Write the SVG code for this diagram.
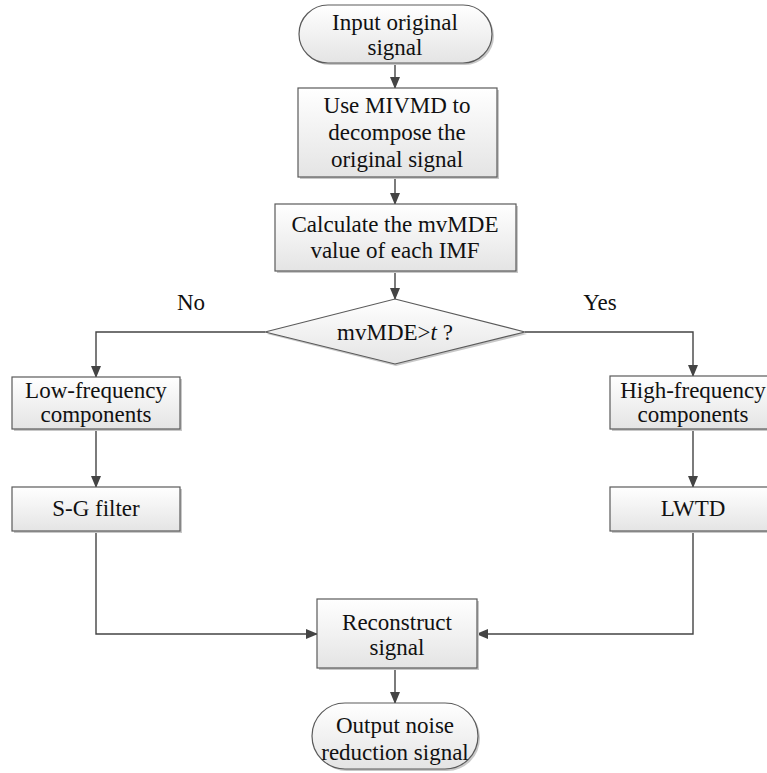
<svg xmlns="http://www.w3.org/2000/svg" width="767" height="773" viewBox="0 0 767 773">
<style>
.n{fill:url(#g);stroke:#5a5a5a;stroke-width:1.2}
.s{fill:#c8c8c8;stroke:none}
.t{font-size:23px;fill:#111;text-anchor:middle}
.c{fill:none;stroke:#444;stroke-width:1.4}
</style>
<defs>
<linearGradient id="g" x1="0" y1="0" x2="0" y2="1">
<stop offset="0" stop-color="#ffffff"/>
<stop offset="1" stop-color="#e4e4e4"/>
</linearGradient>
<marker id="a" markerWidth="12" markerHeight="10" refX="11" refY="5" orient="auto" markerUnits="userSpaceOnUse">
<path d="M0,0 L12,5 L0,10 Z" fill="#444"/>
</marker>
</defs>
<rect width="767" height="773" fill="#fff"/>
<g font-family="Liberation Serif, Times New Roman, serif">
<g id="connectors">
<line class="c" x1="395" y1="63" x2="395" y2="88" marker-end="url(#a)"/>
<line class="c" x1="395" y1="177" x2="395" y2="204" marker-end="url(#a)"/>
<line class="c" x1="395" y1="271" x2="395" y2="299" marker-end="url(#a)"/>
<polyline class="c" points="265,332 96,332 96,377" marker-end="url(#a)"/>
<line class="c" x1="96" y1="429" x2="96" y2="487" marker-end="url(#a)"/>
<polyline class="c" points="96,531 96,634 317,634" marker-end="url(#a)"/>
<polyline class="c" points="525,332 693,332 693,376" marker-end="url(#a)"/>
<line class="c" x1="693" y1="429" x2="693" y2="487" marker-end="url(#a)"/>
<polyline class="c" points="693,531 693,634 477,634" marker-end="url(#a)"/>
<line class="c" x1="395" y1="668" x2="395" y2="703" marker-end="url(#a)"/>
<text class="t" x="191" y="310">No</text>
<text class="t" x="600" y="310">Yes</text>
</g>
<g id="input">
<rect class="s" x="301" y="7" width="193" height="58" rx="29"/>
<rect class="n" x="299" y="5" width="193" height="58" rx="29"/>
<text class="t" x="395" y="30">Input original</text>
<text class="t" x="395" y="55">signal</text>
</g>
<g id="decompose">
<rect class="s" x="300" y="90" width="199" height="89"/>
<rect class="n" x="298" y="88" width="199" height="89"/>
<text class="t" x="397" y="113">Use MIVMD to</text>
<text class="t" x="397" y="140">decompose the</text>
<text class="t" x="397" y="167">original signal</text>
</g>
<g id="calc">
<rect class="s" x="277" y="206" width="241" height="67"/>
<rect class="n" x="275" y="204" width="241" height="67"/>
<text class="t" x="395" y="232">Calculate the mvMDE</text>
<text class="t" x="395" y="258">value of each IMF</text>
</g>
<g id="decision">
<polygon class="s" points="396,301 527,334 396,366 267,334"/>
<polygon class="n" points="395,299 525,332 395,364 265,332"/>
<text class="t" x="395" y="340">mvMDE&gt;<tspan font-style="italic">t</tspan> ?</text>
</g>
<g id="low">
<rect class="s" x="14" y="379" width="168" height="52"/>
<rect class="n" x="12" y="377" width="168" height="52"/>
<text class="t" x="96" y="398">Low-frequency</text>
<text class="t" x="96" y="422">components</text>
</g>
<g id="sg">
<rect class="s" x="14" y="489" width="168" height="44"/>
<rect class="n" x="12" y="487" width="168" height="44"/>
<text class="t" x="96" y="516">S-G filter</text>
</g>
<g id="high">
<rect class="s" x="612" y="378" width="165" height="53"/>
<rect class="n" x="610" y="376" width="165" height="53"/>
<text class="t" x="693" y="398">High-frequency</text>
<text class="t" x="693" y="422">components</text>
</g>
<g id="lwtd">
<rect class="s" x="612" y="489" width="165" height="44"/>
<rect class="n" x="610" y="487" width="165" height="44"/>
<text class="t" x="693" y="516">LWTD</text>
</g>
<g id="reconstruct">
<rect class="s" x="319" y="601" width="160" height="69"/>
<rect class="n" x="317" y="599" width="160" height="69"/>
<text class="t" x="397" y="630">Reconstruct</text>
<text class="t" x="397" y="655">signal</text>
</g>
<g id="output">
<rect class="s" x="314" y="705" width="166" height="66" rx="33"/>
<rect class="n" x="312" y="703" width="166" height="66" rx="33"/>
<text class="t" x="395" y="733">Output noise</text>
<text class="t" x="395" y="760">reduction signal</text>
</g>
</g>
</svg>
